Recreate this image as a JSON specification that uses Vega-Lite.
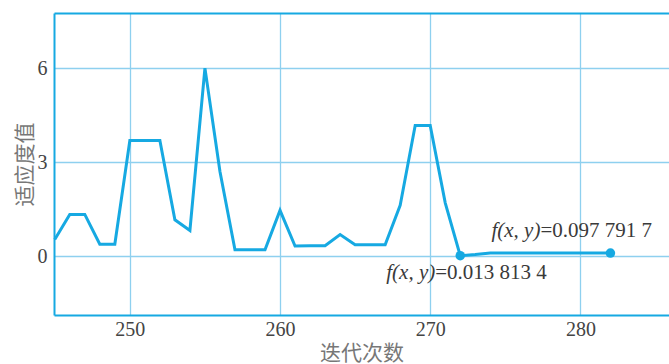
{
  "$schema": "https://vega.github.io/schema/vega-lite/v6.json",
  "width": 615,
  "height": 302,
  "autosize": {"type": "none"},
  "padding": {"left": 54, "top": 13, "right": 0, "bottom": 49},
  "background": "white",
  "config": {
    "view": {"stroke": null},
    "axis": {
      "labelFont": "Liberation Serif",
      "labelFontSize": 20,
      "labelColor": "#444444",
      "titleFont": "Noto Sans CJK SC",
      "titleFontSize": 21,
      "titleFontWeight": "normal",
      "titleColor": "#777777",
      "gridColor": "#8ED0EF",
      "gridWidth": 1.3,
      "domainColor": "#16A9E2",
      "domainWidth": 2,
      "ticks": false,
      "tickSize": 0
    }
  },
  "datasets": {
    "fit": [
      {"it": 245, "fit": 0.53},
      {"it": 246, "fit": 1.33},
      {"it": 247, "fit": 1.33},
      {"it": 248, "fit": 0.38},
      {"it": 249, "fit": 0.38},
      {"it": 250, "fit": 3.69},
      {"it": 251, "fit": 3.69},
      {"it": 252, "fit": 3.69},
      {"it": 253, "fit": 1.16},
      {"it": 254, "fit": 0.82},
      {"it": 255, "fit": 6.0},
      {"it": 256, "fit": 2.7},
      {"it": 257, "fit": 0.2},
      {"it": 258, "fit": 0.2},
      {"it": 259, "fit": 0.2},
      {"it": 260, "fit": 1.46},
      {"it": 261, "fit": 0.32},
      {"it": 262, "fit": 0.33},
      {"it": 263, "fit": 0.33},
      {"it": 264, "fit": 0.69},
      {"it": 265, "fit": 0.36},
      {"it": 266, "fit": 0.36},
      {"it": 267, "fit": 0.36},
      {"it": 268, "fit": 1.62},
      {"it": 269, "fit": 4.17},
      {"it": 270, "fit": 4.17},
      {"it": 271, "fit": 1.7},
      {"it": 272, "fit": 0.0138134},
      {"it": 273, "fit": 0.05},
      {"it": 274, "fit": 0.0977917},
      {"it": 275, "fit": 0.0977917},
      {"it": 276, "fit": 0.0977917},
      {"it": 277, "fit": 0.0977917},
      {"it": 278, "fit": 0.0977917},
      {"it": 279, "fit": 0.0977917},
      {"it": 280, "fit": 0.0977917},
      {"it": 281, "fit": 0.0977917},
      {"it": 282, "fit": 0.0977917}
    ],
    "marks": [
      {"it": 272, "fit": 0.0138134, "fx": "f(x, y)", "val": "=0.013 813 4"},
      {"it": 282, "fit": 0.0977917, "fx": "f(x, y)", "val": "=0.097 791 7"}
    ]
  },
  "resolve": {"axis": {"x": "independent"}},
  "layer": [
    {
      "data": {"name": "fit"},
      "mark": {"type": "line", "color": "#16A9E2", "strokeWidth": 3, "strokeJoin": "miter"},
      "encoding": {
        "x": {
          "field": "it", "type": "quantitative",
          "scale": {"domain": [244.95, 285.9], "nice": false, "zero": false},
          "axis": {"orient": "bottom", "values": [250, 260, 270, 280], "title": "迭代次数", "grid": true, "domain": true, "labelPadding": 4, "titlePadding": 3}
        },
        "y": {
          "field": "fit", "type": "quantitative",
          "scale": {"domain": [-1.88, 7.76], "nice": false, "zero": false},
          "axis": {"values": [0, 3, 6], "title": "适应度值", "grid": true, "domain": true, "labelPadding": 7, "titlePadding": 2}
        }
      }
    },
    {
      "data": {"name": "marks"},
      "mark": {"type": "point", "filled": true, "opacity": 1, "size": 90, "color": "#16A9E2"},
      "encoding": {
        "x": {"field": "it", "type": "quantitative", "axis": {"orient": "top", "labels": false, "grid": false, "title": null, "domain": true, "ticks": false}},
        "y": {"field": "fit", "type": "quantitative", "axis": {"values": [0, 3, 6], "title": "适应度值", "grid": true, "domain": true, "labelPadding": 7, "titlePadding": 2}}
      }
    },
    {
      "data": {"name": "marks"},
      "transform": [{"filter": "datum.it == 272"}],
      "mark": {"type": "text", "font": "Liberation Serif", "fontSize": 21, "fontStyle": "italic", "color": "#3a3a3a", "align": "right", "baseline": "middle", "dx": -25, "dy": 17},
      "encoding": {
        "x": {"field": "it", "type": "quantitative", "axis": null},
        "y": {"field": "fit", "type": "quantitative", "axis": {"values": [0, 3, 6], "title": "适应度值", "grid": true, "domain": true, "labelPadding": 7, "titlePadding": 2}},
        "text": {"field": "fx"}
      }
    },
    {
      "data": {"name": "marks"},
      "transform": [{"filter": "datum.it == 272"}],
      "mark": {"type": "text", "font": "Liberation Serif", "fontSize": 21, "color": "#3a3a3a", "align": "left", "baseline": "middle", "dx": -25, "dy": 17},
      "encoding": {
        "x": {"field": "it", "type": "quantitative", "axis": null},
        "y": {"field": "fit", "type": "quantitative", "axis": {"values": [0, 3, 6], "title": "适应度值", "grid": true, "domain": true, "labelPadding": 7, "titlePadding": 2}},
        "text": {"field": "val"}
      }
    },
    {
      "data": {"name": "marks"},
      "transform": [{"filter": "datum.it == 282"}],
      "mark": {"type": "text", "font": "Liberation Serif", "fontSize": 21, "fontStyle": "italic", "color": "#3a3a3a", "align": "right", "baseline": "middle", "dx": -70, "dy": -22},
      "encoding": {
        "x": {"field": "it", "type": "quantitative", "axis": null},
        "y": {"field": "fit", "type": "quantitative", "axis": {"values": [0, 3, 6], "title": "适应度值", "grid": true, "domain": true, "labelPadding": 7, "titlePadding": 2}},
        "text": {"field": "fx"}
      }
    },
    {
      "data": {"name": "marks"},
      "transform": [{"filter": "datum.it == 282"}],
      "mark": {"type": "text", "font": "Liberation Serif", "fontSize": 21, "color": "#3a3a3a", "align": "left", "baseline": "middle", "dx": -70, "dy": -22},
      "encoding": {
        "x": {"field": "it", "type": "quantitative", "axis": null},
        "y": {"field": "fit", "type": "quantitative", "axis": {"values": [0, 3, 6], "title": "适应度值", "grid": true, "domain": true, "labelPadding": 7, "titlePadding": 2}},
        "text": {"field": "val"}
      }
    }
  ]
}
